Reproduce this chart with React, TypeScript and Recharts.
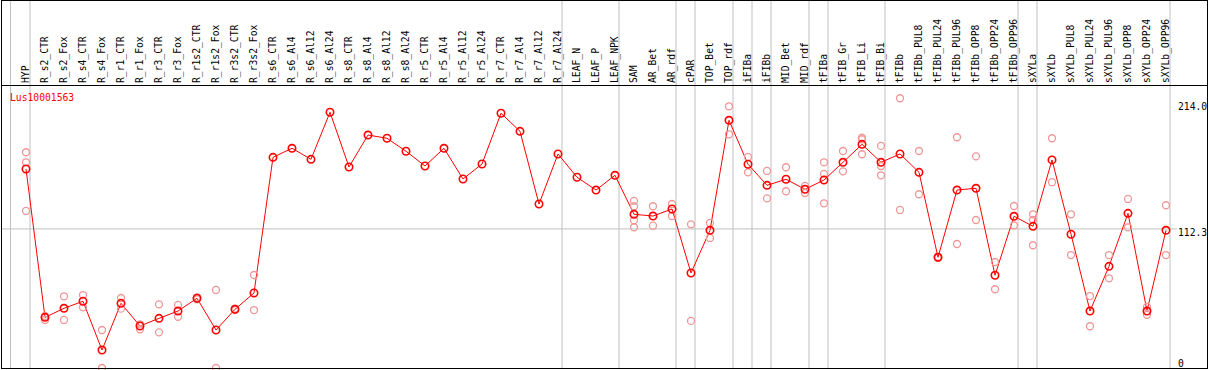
import { ComposedChart, Line, XAxis, YAxis, ReferenceLine } from "recharts";

const categories = [
  "HYP", "R_s2_CTR", "R_s2_Fox", "R_s4_CTR", "R_s4_Fox", "R_r1_CTR", "R_r1_Fox", "R_r3_CTR", "R_r3_Fox",
  "R_r1s2_CTR", "R_r1s2_Fox", "R_r3s2_CTR", "R_r3s2_Fox", "R_s6_CTR", "R_s6_Al4", "R_s6_Al12", "R_s6_Al24",
  "R_s8_CTR", "R_s8_Al4", "R_s8_Al12", "R_s8_Al24", "R_r5_CTR", "R_r5_Al4", "R_r5_Al12", "R_r5_Al24",
  "R_r7_CTR", "R_r7_Al4", "R_r7_Al12", "R_r7_Al24", "LEAF_N", "LEAF_P", "LEAF_NPK", "SAM", "AR_Bet", "AR_rdf",
  "cPAR", "TOP_Bet", "TOP_rdf", "iFIBa", "iFIBb", "MID_Bet", "MID_rdf", "tFIBa", "tFIB_Gr", "tFIB_Li", "tFIB_Bi",
  "tFIBb", "tFIBb_PUL8", "tFIBb_PUL24", "tFIBb_PUL96", "tFIBb_OPP8", "tFIBb_OPP24", "tFIBb_OPP96", "sXYLa",
  "sXYLb", "sXYLb_PUL8", "sXYLb_PUL24", "sXYLb_PUL96", "sXYLb_OPP8", "sXYLb_OPP24", "sXYLb_OPP96",
];

const meanValues = [
  160.7, 40.9, 48.2, 53.9, 14.5, 52.2, 33.9, 40.1, 46.0, 56.3, 30.7, 47.4, 60.6,
  170.1, 177.4, 168.5, 206.5, 162.3, 188.1, 185.5, 175.0, 163.1, 177.4, 152.6, 164.7,
  205.7, 191.1, 132.4, 172.8, 154.0, 143.7, 155.6, 124.1, 122.7, 128.4, 76.7, 111.2, 200.0,
  164.5, 147.5, 152.4, 144.3, 151.8, 166.1, 180.6, 166.1, 172.8, 158.0, 89.4, 143.7, 145.1,
  74.9, 122.5, 114.4, 168.0, 108.0, 46.0, 82.1, 124.9, 46.0, 111.2,
];

const rep1 = [
  174.2, 42.0, 57.9, 58.9, 30.7, 56.5, 35.3, 51.4, 50.9, 57.1, 63.0, 48.0, 75.1,
  null, null, null, null, null, null, null, null, null, null, null, null, null, null, null, null, null, null, null,
  134.9, 130.6, 132.4, 116.0, 117.1, 211.3, 170.4, 159.1, 162.1, 147.0, 166.1, 175.2, 186.0, 179.3,
  217.8, 175.2, 89.9, 186.3, 170.9, 85.6, 130.8, 124.1, 185.5, 124.1, 58.1, 91.2, 136.5, 49.3, 131.4,
];

const rep2 = [
  166.1, 38.8, 38.8, 49.0, 0, 47.9, 31.3, 28.8, 41.4, 55.5, 0, 46.8, 46.8,
  null, null, null, null, null, null, null, null, null, null, null, null, null, null, null, null, null, null, null,
  130.6, 114.9, 122.7, 38.0, 105.0, 188.7, 158.0, 137.0, 142.7, 141.3, 156.7, 158.8, 184.7, 163.1,
  127.6, 140.3, 88.9, 100.1, 119.5, 63.6, 115.2, 119.5, 150.0, 91.2, 33.7, 72.4, 113.6, 43.0, 91.2,
];

const rep3 = [
  126.8, null, null, null, null, null, null, null, null, null, null, null, null,
  null, null, null, null, null, null, null, null, null, null, null, null, null, null, null, null, null, null, null,
  119.3, null, null, null, null, null, null, null, null, null, 133.0, null, 172.6, 155.6,
  null, null, null, null, null, null, null, 99.1, null, null, null, null, null, null, null,
];

const rep4 = [
  null, null, null, null, null, null, null, null, null, null, null, null, null,
  null, null, null, null, null, null, null, null, null, null, null, null, null, null, null, null, null, null, null,
  113.6, null, null, null, null, null, null, null, null, null, null, null, null, null,
  null, null, null, null, null, null, null, null, null, null, null, null, null, null, null,
];

// last column of each group; a gray divider is drawn just after it
const groupEnds = [
  "HYP", "R_r7_Al24", "LEAF_NPK", "AR_rdf", "cPAR", "TOP_rdf", "iFIBa", "iFIBb",
  "MID_rdf", "tFIBa", "tFIB_Bi", "tFIBb_OPP96", "sXYLa", "sXYLb_OPP96",
];

const yTicks = [0, 112.3, 214.0];
const refValue = 112.3;
const title = "Lus10001563";

const data = categories.map((name, i) => ({
  idx: i,
  name,
  mean: meanValues[i],
  r1: rep1[i],
  r2: rep2[i],
  r3: rep3[i],
  r4: rep4[i],
}));

const FONT = "'DejaVu Sans Mono', monospace";
const GRID = "#c0c0c0";
const W = 1209;
const H = 370;

const makeDot = (color: string, width: number, r: number) => (props: any) => {
  const { cx, cy, value, index } = props;
  if (value == null || cy == null || isNaN(cy)) return <g key={`e-${index}`} />;
  return <circle key={`d-${index}`} cx={cx} cy={cy} r={r} fill="none" stroke={color} strokeWidth={width} />;
};

const XTick = (props: any) => {
  const { x, payload } = props;
  return (
    <text
      transform={`translate(${x + 3},83) rotate(-90)`}
      textAnchor="start"
      fontFamily={FONT}
      fontSize={9.7}
      fill="#000"
    >
      {categories[payload.value]}
    </text>
  );
};

const YTick = (props: any) => {
  const { y, payload } = props;
  const ty = payload.value === 0 ? y - 1 : y + 7.5;
  return (
    <text x={1178} y={ty} fontFamily={FONT} fontSize={9.7} fill="#000">
      {payload.value === 0 ? "0" : payload.value.toFixed(1)}
    </text>
  );
};

const vLine = (dx: number) => (p: any) => (
  <line x1={p.x1 + dx} x2={p.x1 + dx} y1={0} y2={368} stroke={GRID} strokeWidth={1} />
);

const hLine = (p: any) => (
  <line x1={1} x2={1177} y1={p.y1} y2={p.y1} stroke={GRID} strokeWidth={1} />
);

export default function App() {
  return (
    <div style={{ position: "relative", width: W, height: H, background: "#fff" }}>
      <style>{"body{margin:0}"}</style>
      <ComposedChart width={W} height={H} data={data} margin={{ top: 0, right: 0, bottom: 2, left: 16.5 }}>
        <XAxis
          dataKey="idx"
          type="number"
          orientation="top"
          height={85}
          domain={[-0.5, 60.5]}
          ticks={categories.map((_, i) => i)}
          interval={0}
          tick={<XTick />}
          axisLine={false}
          tickLine={false}
        />
        <YAxis
          type="number"
          orientation="right"
          width={33.5}
          domain={[0, 228.5]}
          ticks={yTicks}
          interval={0}
          tick={<YTick />}
          axisLine={false}
          tickLine={false}
        />
        {groupEnds.map((g) => (
          <ReferenceLine key={g} x={categories.indexOf(g)} ifOverflow="visible" shape={vLine(4)} />
        ))}
        <ReferenceLine y={refValue} ifOverflow="visible" shape={hLine} />
        {["r1", "r2", "r3", "r4"].map((k) => (
          <Line
            key={k}
            dataKey={k}
            stroke="none"
            isAnimationActive={false}
            dot={makeDot("#f09696", 1.3, 3.5)}
            activeDot={false}
            legendType="none"
          />
        ))}
        <Line
          dataKey="mean"
          stroke="#ff0000"
          strokeWidth={1}
          isAnimationActive={false}
          dot={makeDot("#ff0000", 1.6, 3.7)}
          activeDot={false}
        />
      </ComposedChart>
      <svg
        width={W}
        height={H}
        style={{ position: "absolute", left: 0, top: 0, pointerEvents: "none" }}
      >
        <line x1={10.5} x2={10.5} y1={1} y2={368} stroke={GRID} />
        <line x1={1.5} x2={1.5} y1={0} y2={369} stroke="#000" />
        <line x1={1207.5} x2={1207.5} y1={0} y2={369} stroke="#000" />
        <line x1={1} x2={1208} y1={0.5} y2={0.5} stroke="#000" />
        <line x1={1} x2={1208} y1={85.5} y2={85.5} stroke="#000" />
        <line x1={1} x2={1208} y1={368.5} y2={368.5} stroke="#000" />
        <text x={10} y={100.5} fontFamily={FONT} fontSize={9.7} fill="#ff0000">
          {title}
        </text>
      </svg>
    </div>
  );
}
